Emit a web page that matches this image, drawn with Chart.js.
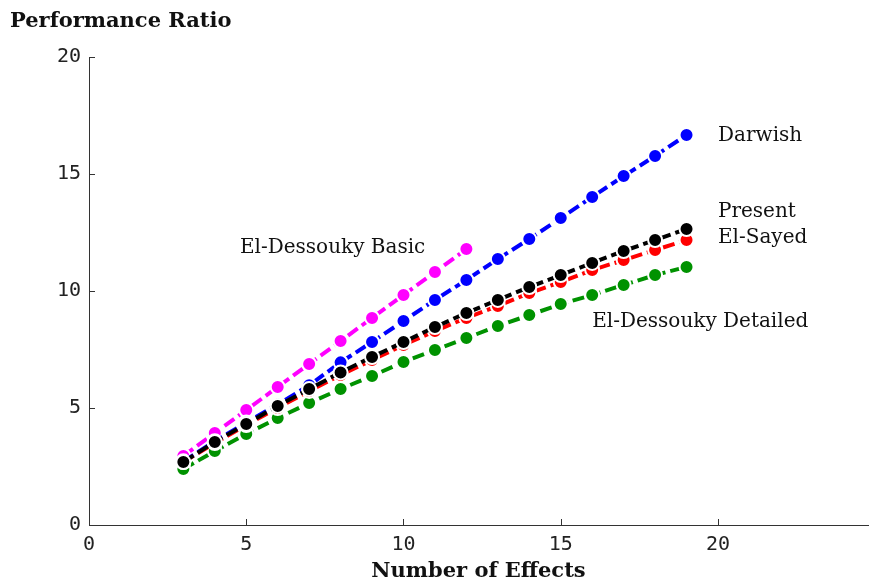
<!DOCTYPE html>
<html>
<head>
<meta charset="utf-8">
<script src="https://cdn.jsdelivr.net/npm/chart.js@4"></script>
<style>
  html, body { margin: 0; padding: 0; background: #fff; }
  #wrap { width: 869px; height: 578px; position: relative; }
</style>
</head>
<body>
<div id="wrap"><canvas id="ratioChart"></canvas></div>
<script>
const effects = [3, 4, 5, 6, 7, 8, 9, 10, 11, 12, 13, 14, 15, 16, 17, 18, 19];
const presentVals = [2.69, 3.55, 4.32, 5.09, 5.81, 6.52, 7.18, 7.82, 8.46, 9.06, 9.62, 10.17, 10.68, 11.20, 11.71, 12.18, 12.65];
const elSayedVals = [2.69, 3.50, 4.27, 5.00, 5.73, 6.41, 7.05, 7.69, 8.29, 8.85, 9.36, 9.91, 10.38, 10.90, 11.32, 11.75, 12.18];
const detailedVals = [2.39, 3.16, 3.89, 4.57, 5.21, 5.81, 6.37, 6.97, 7.48, 7.99, 8.50, 8.97, 9.44, 9.83, 10.26, 10.68, 11.03];
const darwishVals = [2.72, 3.58, 4.38, 5.15, 5.97, 6.95, 7.82, 8.72, 9.62, 10.47, 11.37, 12.22, 13.12, 14.02, 14.91, 15.77, 16.67];
const basicVals = [2.95, 3.93, 4.91, 5.90, 6.88, 7.86, 8.85, 9.83, 10.81, 11.79];
const xTicks = [0, 5, 10, 15, 20];
const yTicks = [0, 5, 10, 15, 20];

// label text, anchor in data units (left edge, vertical middle)
const labels = [
    { text: 'Darwish', x: 20.0, y: 16.65 },
    { text: 'Present', x: 20.0, y: 13.38 },
    { text: 'El-Sayed', x: 20.0, y: 12.26 },
    { text: 'El-Dessouky Detailed', x: 16.0, y: 8.67 },
    { text: 'El-Dessouky Basic', x: 4.8, y: 11.84 }
];

const serif = '"DejaVu Serif", "Liberation Serif", serif';
const mono = '"DejaVu Sans Mono", monospace';

function toPoints(vals) {
    return vals.map((v, i) => ({ x: effects[i], y: v }));
}

function series(name, vals, color) {
    return {
        label: name,
        data: toPoints(vals),
        borderColor: color,
        backgroundColor: color,
        borderWidth: 4,
        borderDash: [12, 5],
        pointRadius: 7,
        pointHoverRadius: 7,
        pointBorderWidth: 2,
        pointBorderColor: '#ffffff',
        pointBackgroundColor: color,
        tension: 0,
        fill: false
    };
}

// inward tick marks, free text labels and axis titles
const decorPlugin = {
    id: 'decor',
    afterDraw(chart) {
        const ctx = chart.ctx;
        const xs = chart.scales.x;
        const ys = chart.scales.y;
        const area = chart.chartArea;
        ctx.save();
        ctx.strokeStyle = '#333';
        ctx.lineWidth = 1;
        xTicks.forEach(t => {
            const px = Math.round(xs.getPixelForValue(t)) + 0.5;
            ctx.beginPath();
            ctx.moveTo(px, area.bottom);
            ctx.lineTo(px, area.bottom - 6);
            ctx.stroke();
        });
        yTicks.forEach(t => {
            const py = Math.round(ys.getPixelForValue(t)) + 0.5;
            ctx.beginPath();
            ctx.moveTo(area.left, py);
            ctx.lineTo(area.left + 6, py);
            ctx.stroke();
        });

        ctx.fillStyle = '#111';
        ctx.font = '20px ' + serif;
        ctx.textAlign = 'left';
        ctx.textBaseline = 'middle';
        labels.forEach(l => {
            ctx.fillText(l.text, xs.getPixelForValue(l.x), ys.getPixelForValue(l.y));
        });

        ctx.font = 'bold 21px ' + serif;
        ctx.textBaseline = 'alphabetic';
        ctx.fillText('Performance Ratio', 10, 27);
        ctx.textAlign = 'center';
        ctx.fillText('Number of Effects', (area.left + area.right) / 2, 577);
        ctx.restore();
    }
};

document.addEventListener('DOMContentLoaded', function () {
    const ctx = document.getElementById('ratioChart').getContext('2d');
    new Chart(ctx, {
        type: 'line',
        data: {
            datasets: [
                series('Present', presentVals, '#000000'),
                series('El-Sayed', elSayedVals, '#ff0000'),
                series('El-Dessouky Detailed', detailedVals, '#009200'),
                series('Darwish', darwishVals, '#0000ff'),
                series('El-Dessouky Basic', basicVals, '#ff00ff')
            ]
        },
        options: {
            responsive: true,
            maintainAspectRatio: false,
            animation: false,
            layout: { autoPadding: false, padding: { top: 57, right: 1, left: 0, bottom: 0 } },
            plugins: {
                legend: { display: false },
                tooltip: { enabled: false },
                title: { display: false }
            },
            scales: {
                x: {
                    type: 'linear',
                    min: 0,
                    max: 24.77,
                    afterBuildTicks: (s) => { s.ticks = xTicks.map(v => ({ value: v })); },
                    afterFit: (s) => { s.height = 53; s.paddingLeft = 0; s.paddingRight = 0; },
                    grid: { display: true, drawOnChartArea: false, drawTicks: false },
                    border: { display: true, color: '#333', width: 1 },
                    ticks: {
                        padding: 8,
                        color: '#222',
                        font: { family: mono, size: 20 }
                    }
                },
                y: {
                    type: 'linear',
                    min: 0,
                    max: 20,
                    afterBuildTicks: (s) => { s.ticks = yTicks.map(v => ({ value: v })); },
                    afterFit: (s) => { s.width = 89; s.paddingTop = 0; s.paddingBottom = 0; },
                    grid: { display: true, drawOnChartArea: false, drawTicks: false },
                    border: { display: true, color: '#333', width: 1 },
                    ticks: {
                        padding: 8,
                        color: '#222',
                        font: { family: mono, size: 20 }
                    }
                }
            }
        },
        plugins: [decorPlugin]
    });
});
</script>
</body>
</html>
